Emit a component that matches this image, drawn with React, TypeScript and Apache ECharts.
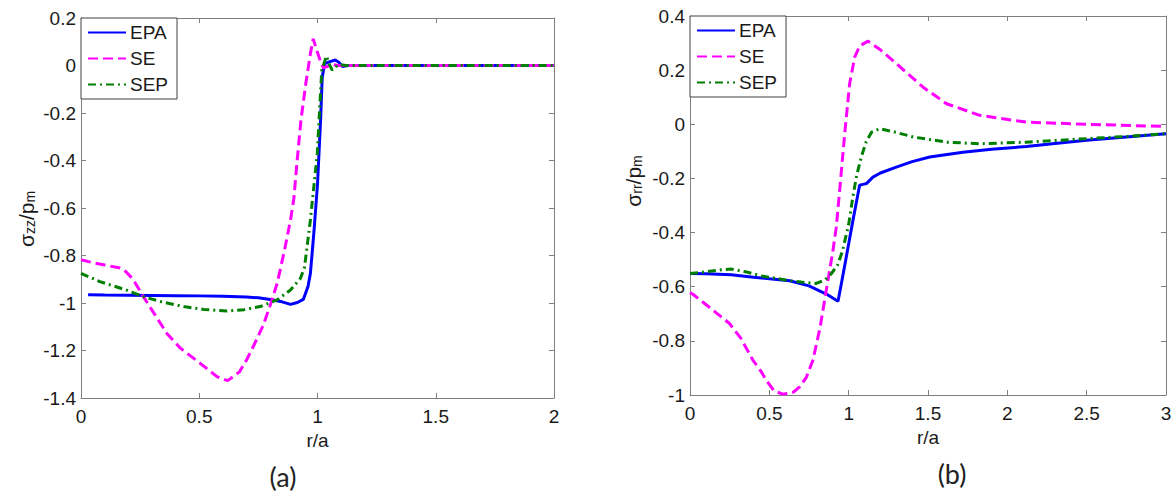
import React, { useEffect, useRef } from "react";
import * as echarts from "echarts";

// ---------- data ----------
const seriesNames = ["EPA", "SE", "SEP"];

// (a) sigma_zz / p_m versus r/a
const epaA: [number, number][] = [
  [0.03, -0.965], [0.1, -0.966], [0.2, -0.967], [0.3, -0.968], [0.4, -0.969],
  [0.5, -0.97], [0.6, -0.972], [0.7, -0.975], [0.75, -0.978], [0.8, -0.985],
  [0.85, -0.995], [0.886, -1.006], [0.915, -0.998], [0.94, -0.985], [0.96, -0.93],
  [0.97, -0.875], [0.985, -0.7], [1.0, -0.5], [1.013, -0.23], [1.02, -0.05],
  [1.03, 0.008], [1.05, 0.015], [1.075, 0.023], [1.09, 0.014], [1.105, -0.004],
  [1.13, 0.0], [1.2, 0.0], [1.5, 0.0], [2.0, 0.0],
];
const seA: [number, number][] = [
  [0.0, -0.818], [0.05, -0.83], [0.1, -0.84], [0.165, -0.853], [0.19, -0.868],
  [0.22, -0.9], [0.264, -0.973], [0.3, -1.03], [0.363, -1.128], [0.42, -1.19],
  [0.504, -1.254], [0.575, -1.31], [0.62, -1.327], [0.67, -1.29], [0.7, -1.24],
  [0.73, -1.18], [0.77, -1.095], [0.8, -1.01], [0.83, -0.915], [0.86, -0.78],
  [0.886, -0.65], [0.9, -0.56], [0.914, -0.4], [0.93, -0.23], [0.95, -0.08],
  [0.97, 0.05], [0.982, 0.112], [0.995, 0.07], [1.013, 0.016], [1.025, -0.01],
  [1.04, -0.005], [1.06, 0.008], [1.08, 0.0], [1.2, 0.0], [1.5, 0.0], [2.0, 0.0],
];
const sepA: [number, number][] = [
  [0.0, -0.875], [0.08, -0.91], [0.19, -0.945], [0.264, -0.973], [0.34, -0.995],
  [0.434, -1.015], [0.52, -1.027], [0.617, -1.034], [0.69, -1.028], [0.758, -1.015],
  [0.829, -0.987], [0.886, -0.945], [0.928, -0.896], [0.945, -0.85], [0.97, -0.65],
  [0.999, -0.37], [1.018, -0.02], [1.038, 0.04], [1.05, 0.005], [1.062, -0.019],
  [1.09, 0.005], [1.12, 0.0], [1.5, 0.0], [2.0, 0.0],
];

// (b) sigma_rr / p_m versus r/a
const epaB: [number, number][] = [
  [0.0, -0.551], [0.1, -0.552], [0.26, -0.556], [0.4, -0.565], [0.5, -0.571],
  [0.628, -0.578], [0.75, -0.597], [0.859, -0.627], [0.933, -0.654], [0.96, -0.57],
  [0.985, -0.49], [1.027, -0.355], [1.069, -0.225], [1.09, -0.222], [1.112, -0.219],
  [1.153, -0.195], [1.2, -0.18], [1.3, -0.158], [1.4, -0.138], [1.511, -0.121],
  [1.72, -0.103], [1.9, -0.092], [2.12, -0.082], [2.3, -0.071], [2.5, -0.059],
  [2.75, -0.047], [3.0, -0.035],
];
const seB: [number, number][] = [
  [0.0, -0.622], [0.018, -0.628], [0.12, -0.675], [0.249, -0.736], [0.32, -0.79],
  [0.396, -0.871], [0.45, -0.915], [0.48, -0.945], [0.53, -0.985], [0.585, -0.997],
  [0.65, -0.99], [0.691, -0.97], [0.733, -0.935], [0.775, -0.871], [0.82, -0.75],
  [0.859, -0.613], [0.9, -0.47], [0.922, -0.38], [0.95, -0.2], [0.975, -0.035],
  [1.006, 0.15], [1.038, 0.248], [1.07, 0.29], [1.122, 0.307], [1.2, 0.275],
  [1.301, 0.224], [1.469, 0.137], [1.617, 0.076], [1.826, 0.033], [2.12, 0.008],
  [2.5, 0.0], [3.0, -0.008],
];
const sepB: [number, number][] = [
  [0.0, -0.551], [0.1, -0.545], [0.2, -0.537], [0.26, -0.535], [0.35, -0.545],
  [0.45, -0.56], [0.55, -0.57], [0.628, -0.578], [0.7, -0.583], [0.796, -0.588],
  [0.85, -0.575], [0.89, -0.553], [0.93, -0.52], [0.96, -0.47], [1.0, -0.37],
  [1.026, -0.27], [1.05, -0.19], [1.08, -0.12], [1.11, -0.065], [1.143, -0.03],
  [1.196, -0.016], [1.3, -0.03], [1.407, -0.047], [1.617, -0.066], [1.826, -0.072],
  [2.12, -0.066], [2.5, -0.053], [2.75, -0.045], [3.0, -0.035],
];

// axis ranges
const xRangeA = { min: 0, max: 2, interval: 0.5 };
const yRangeA = { min: -1.4, max: 0.2, interval: 0.2 };
const xRangeB = { min: 0, max: 3, interval: 0.5 };
const yRangeB = { min: -1, max: 0.4, interval: 0.2 };

// ---------- styles ----------
const FONT = "'Liberation Sans', Arial, sans-serif";
const AXIS_COLOR = "#808080";
const TEXT_COLOR = "#1a1a1a";
const lineStyles: Record<string, any> = {
  EPA: { color: "#0000ff", width: 3, type: "solid" },
  SE: { color: "#ff00ff", width: 3, type: [10, 5] },
  SEP: { color: "#007f00", width: 3, type: [8, 4, 2, 4] },
};

function baseAxis(range: any, gridIndex: number, position: string, showLabel: boolean) {
  return {
    type: "value",
    gridIndex,
    position,
    min: range.min,
    max: range.max,
    interval: range.interval,
    axisLine: { show: true, onZero: false, lineStyle: { color: AXIS_COLOR, width: 1 } },
    axisTick: { show: true, inside: true, length: 5, lineStyle: { color: AXIS_COLOR } },
    axisLabel: {
      show: showLabel,
      fontSize: 19,
      fontFamily: FONT,
      color: TEXT_COLOR,
      margin: position === "left" ? 5 : 9,
    },
    splitLine: { show: false },
  };
}

function makeSeries(name: string, data: [number, number][], idx: number) {
  return {
    name,
    type: "line",
    xAxisIndex: idx,
    yAxisIndex: idx,
    data,
    symbol: "none",
    showSymbol: false,
    smooth: false,
    clip: true,
    lineStyle: lineStyles[name],
    itemStyle: { color: lineStyles[name].color },
    emphasis: { disabled: true },
  };
}

function legendAt(left: number, top: number) {
  return {
    data: seriesNames,
    orient: "vertical",
    left,
    top,
    selectedMode: false,
    backgroundColor: "#ffffff",
    borderColor: "#404040",
    borderWidth: 1,
    borderRadius: 0,
    padding: [5, 9, 5, 6],
    itemGap: 7,
    itemWidth: 38,
    itemHeight: 14,
    itemStyle: { opacity: 0, borderWidth: 0 },
    textStyle: { fontSize: 19, fontFamily: FONT, color: TEXT_COLOR, padding: [0, 0, 0, -1] },
  };
}

function yTitle(x: number, y: number, sub: string) {
  return {
    type: "text",
    x,
    y,
    rotation: Math.PI / 2,
    style: {
      text: `{m|σ}{s|${sub}}{m|/p}{s|m}`,
      align: "center",
      verticalAlign: "middle",
      fill: TEXT_COLOR,
      font: `21px ${FONT}`,
      rich: {
        m: { fontSize: 21, fontFamily: FONT, fill: TEXT_COLOR, lineHeight: 21 },
        s: { fontSize: 14, fontFamily: FONT, fill: TEXT_COLOR, lineHeight: 8, verticalAlign: "bottom" },
      },
    },
  };
}

function panelTag(x: number, y: number, text: string) {
  return {
    type: "text",
    x,
    y,
    style: {
      text,
      align: "center",
      verticalAlign: "middle",
      fill: "#222222",
      font: "27px Lato, 'Open Sans', sans-serif",
    },
  };
}

export default function App() {
  const ref = useRef<HTMLDivElement>(null);

  useEffect(() => {
    if (!ref.current) return;
    const chart = echarts.init(ref.current, undefined, { renderer: "svg" });
    const xName = {
      name: "r/a",
      nameLocation: "middle",
      nameGap: 29,
      nameTextStyle: { fontSize: 19, fontFamily: FONT, color: TEXT_COLOR },
    };
    chart.setOption({
      animation: false,
      backgroundColor: "#ffffff",
      grid: [
        { left: 81, top: 18, width: 473, height: 380, containLabel: false },
        { left: 690, top: 16, width: 476, height: 379, containLabel: false },
      ],
      xAxis: [
        { ...baseAxis(xRangeA, 0, "bottom", true), ...xName },
        baseAxis(xRangeA, 0, "top", false),
        { ...baseAxis(xRangeB, 1, "bottom", true), ...xName },
        baseAxis(xRangeB, 1, "top", false),
      ],
      yAxis: [
        baseAxis(yRangeA, 0, "left", true),
        baseAxis(yRangeA, 0, "right", false),
        baseAxis(yRangeB, 1, "left", true),
        baseAxis(yRangeB, 1, "right", false),
      ],
      legend: [legendAt(81, 18), legendAt(690, 16)],
      series: [
        makeSeries("EPA", epaA, 0),
        makeSeries("SE", seA, 0),
        makeSeries("SEP", sepA, 0),
        makeSeries("EPA", epaB, 2),
        makeSeries("SE", seB, 2),
        makeSeries("SEP", sepB, 2),
      ],
      graphic: [
        yTitle(26, 219, "zz"),
        yTitle(633, 181, "rr"),
        panelTag(283, 476, "(a)"),
        panelTag(952, 473, "(b)"),
      ],
    });
    return () => chart.dispose();
  }, []);

  return (
    <div
      ref={ref}
      style={{ position: "fixed", left: 0, top: 0, width: 1175, height: 495, background: "#fff" }}
    />
  );
}
